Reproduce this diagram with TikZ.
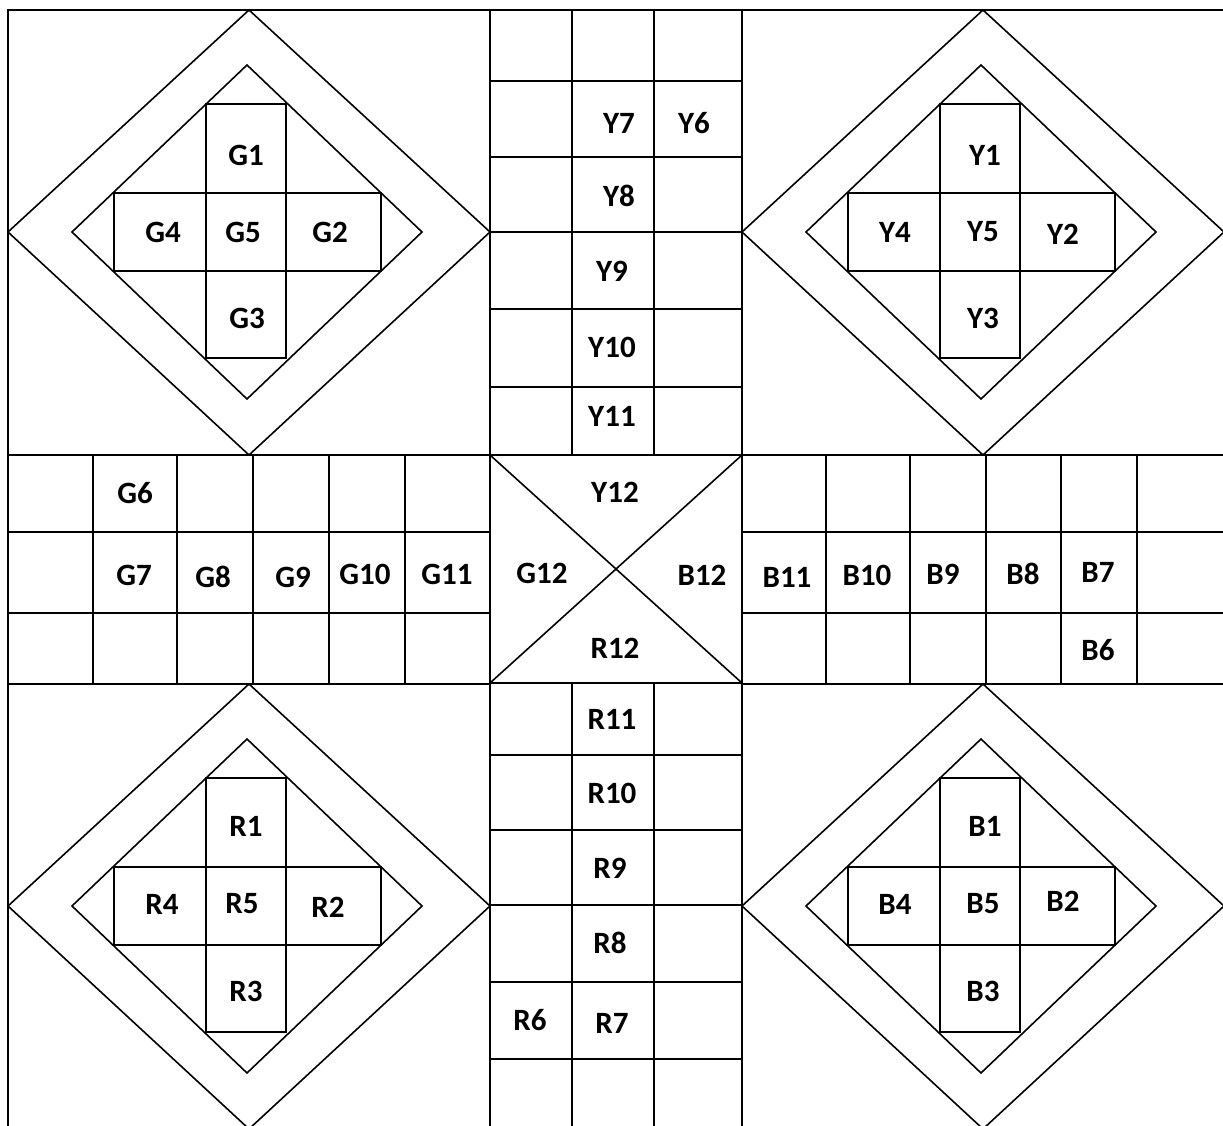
\documentclass[tikz,border=0pt]{standalone}
\usepackage{fontspec}
\setmainfont{Carlito}
\tikzset{
  board/.style={line width=1.6pt},
  lbl/.style={font=\fontsize{31}{36}\selectfont\bfseries}
}
\begin{document}
\begin{tikzpicture}[x=1pt,y=-1pt,board]
\clip (0,0) rectangle (1223,1126);
\draw (1230,10)--(8,10)--(8,1130);
% home yards
\foreach \cx/\cy in {249/232,983/232,249/906,983/906}{
  \draw (\cx-241,\cy-222) rectangle (\cx+241,\cy+223);
  \draw (\cx,\cy-222)--(\cx+241,\cy)--(\cx,\cy+223)--(\cx-241,\cy)--cycle;
  \draw (\cx-2,\cy-167)--(\cx+173,\cy)--(\cx-2,\cy+167)--(\cx-177,\cy)--cycle;
  \draw (\cx-43,\cy-128) rectangle (\cx+37,\cy+126);
  \draw (\cx-135,\cy-39) rectangle (\cx+132,\cy+39);
}
% vertical tracks
\foreach \x in {572,654}{
  \draw (\x,10)--(\x,455);
  \draw (\x,683)--(\x,1130);
}
\foreach \y in {81,157,232,309,387,755,830,905,982,1059}
  \draw (490,\y)--(742,\y);
% horizontal tracks
\foreach \x in {93,177,253,329,405,826,910,986,1061,1137}
  \draw (\x,455)--(\x,683);
\foreach \y in {532,613}
  \draw (8,\y)--(490,\y) (742,\y)--(1230,\y);
% centre
\draw (490,455) rectangle (742,683) (490,455)--(742,683) (742,455)--(490,683);
% labels
\foreach \n/\x/\y in {G1/246/155,G4/163/232,G5/243/232,G2/330/232,G3/247/318,
    Y1/985/155,Y4/895/232,Y5/983/232,Y2/1063/234,Y3/983/318,
    R1/246/826,R4/162/904,R5/242/904,R2/328/907,R3/246/991,
    B1/985/826,B4/895/904,B5/983/904,B2/1063/901,B3/983/991,
    Y6/694/123,Y7/619/123,Y8/619/196,Y9/612/271,Y10/612/347,Y11/612/416,
    G6/135/493,G7/134/575,G8/213/577,G9/293/577,G10/365/574,G11/447/574,
    B6/1098/650,B7/1098/572,B8/1023/574,B9/943/574,B10/867/575,B11/787/577,
    R6/530/1020,R7/612/1023,R8/610/943,R9/610/868,R10/612/793,R11/612/719,
    Y12/615/492,G12/542/573,B12/702/575,R12/615/648}
  \node[lbl] (\n) at (\x,\y) {\n};
\end{tikzpicture}
\end{document}
